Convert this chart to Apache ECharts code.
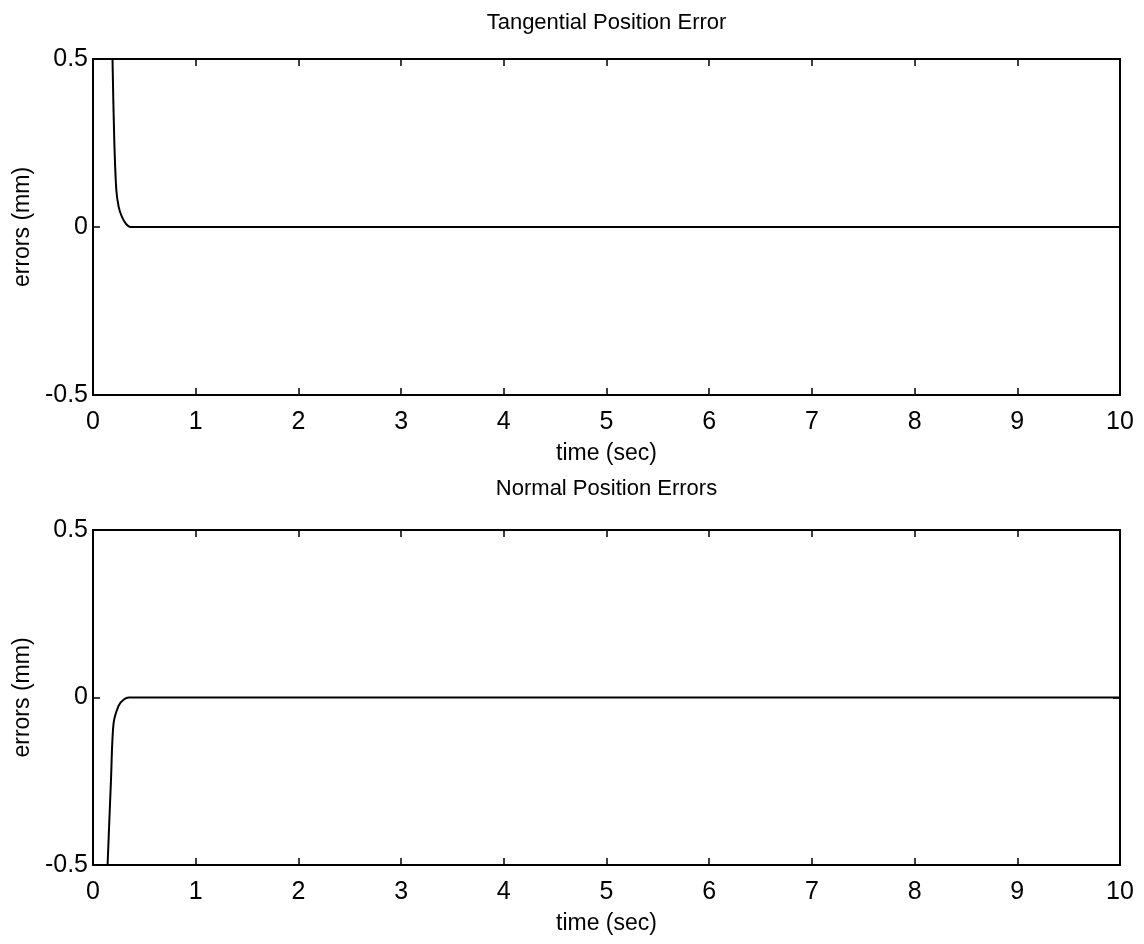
<!DOCTYPE html>
<html>
<head>
<meta charset="utf-8">
<script src="https://cdn.jsdelivr.net/npm/echarts@6/dist/echarts.min.js"></script>
<style>html,body{margin:0;padding:0;background:#fff}#c{width:1144px;height:944px}</style>
</head>
<body>
<div id="c"></div>
<script>
// Data
const titles = ['Tangential Position Error', 'Normal Position Errors'];
const xName = 'time (sec)';
const yName = 'errors (mm)';
const xTicks = [0,1,2,3,4,5,6,7,8,9,10];
const yTicks = [-0.5, 0, 0.5];
// Tangential error: time (s), error (mm)
const tanT = [0.17, 0.19, 0.207, 0.227, 0.25, 0.282, 0.32, 0.363, 1, 2, 3, 4, 5, 6, 7, 8, 9, 10];
const tanE = [0.9, 0.5, 0.26, 0.11, 0.06, 0.03, 0.01, 0.0, 0, 0, 0, 0, 0, 0, 0, 0, 0, 0];
// Normal error
const norT = [0.13, 0.142, 0.175, 0.2, 0.25, 0.3, 0.35, 0.4, 1, 2, 3, 4, 5, 6, 7, 8, 9, 10];
const norE = [-0.6, -0.5, -0.248, -0.078, -0.024, -0.006, 0.0, 0.0, 0, 0, 0, 0, 0, 0, 0, 0, 0, 0];

const FONT = 'Liberation Sans, Arial, sans-serif';
const grids = [
  {left: 93, right: 24, top: 59, height: 336},
  {left: 93, right: 24, top: 530, height: 335}
];
const xAxes = [], yAxes = [];
grids.forEach((g, i) => {
  const common = {
    gridIndex: i, type: 'value', min: xTicks[0], max: xTicks[xTicks.length - 1], interval: 1,
    axisLine: {show: true, onZero: false, lineStyle: {color: '#000', width: 2}},
    axisTick: {show: true, inside: true, length: 7, lineStyle: {color: '#000', width: 1.5}},
    splitLine: {show: false}
  };
  xAxes.push(Object.assign({}, common, {
    position: 'bottom', name: xName, nameLocation: 'middle', nameGap: 47,
    nameTextStyle: {fontFamily: FONT, fontSize: 23, color: '#000'},
    axisLabel: {fontFamily: FONT, fontSize: 25, color: '#000', margin: 15}
  }));
  xAxes.push(Object.assign({}, common, {position: 'top', axisLabel: {show: false}}));
  const ycommon = {
    gridIndex: i, type: 'value', min: yTicks[0], max: yTicks[yTicks.length - 1], interval: 0.5,
    axisLine: {show: true, onZero: false, lineStyle: {color: '#000', width: 2}},
    axisTick: {show: true, inside: true, length: 7, lineStyle: {color: '#000', width: 1.5}},
    splitLine: {show: false}
  };
  yAxes.push(Object.assign({}, ycommon, {
    position: 'left', name: yName, nameLocation: 'middle', nameGap: 56,
    nameTextStyle: {fontFamily: FONT, fontSize: 23, color: '#000'},
    axisLabel: {fontFamily: FONT, fontSize: 25, color: '#000', margin: 5,
      formatter: v => String(v)}
  }));
  yAxes.push(Object.assign({}, ycommon, {position: 'right', axisLabel: {show: false}}));
});

const cx = 93 + (1144 - 93 - 24) / 2;
const chart = echarts.init(document.getElementById('c'), null, {renderer: 'canvas'});
chart.setOption({
  animation: false,
  backgroundColor: '#fff',
  graphic: [
    {type: 'text', x: cx, y: 23, style: {text: titles[0], fontFamily: FONT, fontSize: 22, fill: '#000', textAlign: 'center', textVerticalAlign: 'middle'}},
    {type: 'text', x: cx, y: 489, style: {text: titles[1], fontFamily: FONT, fontSize: 22, fill: '#000', textAlign: 'center', textVerticalAlign: 'middle'}}
  ],
  grid: grids,
  xAxis: xAxes,
  yAxis: yAxes,
  series: [
    {type: 'line', xAxisIndex: 0, yAxisIndex: 0, data: tanT.map((t, k) => [t, tanE[k]]),
     showSymbol: false, smooth: 0.3, clip: true, lineStyle: {color: '#000', width: 2}},
    {type: 'line', xAxisIndex: 2, yAxisIndex: 2, data: norT.map((t, k) => [t, norE[k]]),
     showSymbol: false, smooth: 0.3, clip: true, lineStyle: {color: '#000', width: 2}}
  ]
});
</script>
</body>
</html>
